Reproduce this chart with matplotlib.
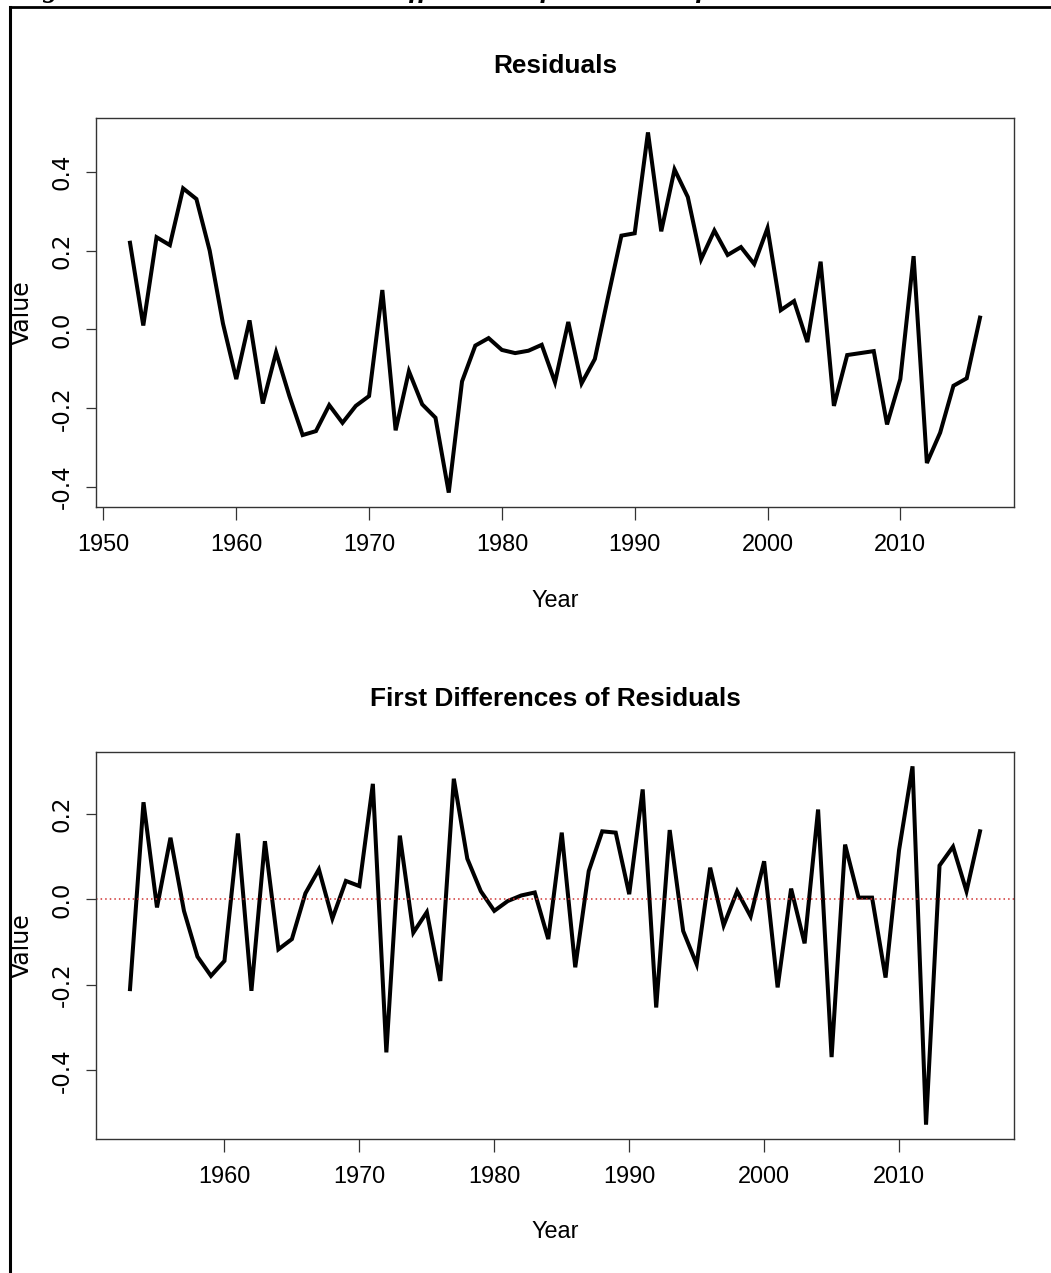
import matplotlib
matplotlib.use("Agg")
import matplotlib.pyplot as plt
from matplotlib import font_manager
from matplotlib.lines import Line2D
import numpy as np

# ---------------- data ----------------
resid_years = list(range(1952, 2017))
resid_values = [
    0.220, 0.010, 0.234, 0.214, 0.358, 0.331, 0.200, 0.015, -0.126, 0.023,
    -0.188, -0.058, -0.169, -0.268, -0.258, -0.192, -0.237, -0.194, -0.169, 0.100,
    -0.256, -0.106, -0.190, -0.224, -0.414, -0.132, -0.041, -0.022, -0.052, -0.060,
    -0.054, -0.039, -0.134, 0.019, -0.137, -0.075, 0.083, 0.238, 0.244, 0.500,
    0.249, 0.406, 0.336, 0.178, 0.251, 0.189, 0.209, 0.166, 0.257, 0.049,
    0.072, -0.032, 0.172, -0.194, -0.065, -0.060, -0.055, -0.241, -0.126, 0.186,
    -0.339, -0.262, -0.143, -0.124, 0.030,
]
diff_years = list(range(1953, 2017))
diff_values = [
    -0.210, 0.227, -0.019, 0.144, -0.027, -0.134, -0.179, -0.144, 0.154, -0.214,
    0.136, -0.117, -0.093, 0.014, 0.070, -0.045, 0.043, 0.031, 0.270, -0.358,
    0.149, -0.078, -0.030, -0.191, 0.282, 0.095, 0.019, -0.027, -0.004, 0.009,
    0.016, -0.093, 0.156, -0.159, 0.066, 0.159, 0.156, 0.012, 0.257, -0.253,
    0.162, -0.074, -0.152, 0.074, -0.061, 0.019, -0.040, 0.089, -0.206, 0.025,
    -0.103, 0.210, -0.369, 0.128, 0.004, 0.004, -0.183, 0.115, 0.311, -0.527,
    0.079, 0.123, 0.019, 0.159,
]
top_xticks = [1950, 1960, 1970, 1980, 1990, 2000, 2010]
top_yticks = [-0.4, -0.2, 0.0, 0.2, 0.4]
bot_xticks = [1960, 1970, 1980, 1990, 2000, 2010]
bot_yticks = [-0.4, -0.2, 0.0, 0.2]
titles = ["Residuals", "First Differences of Residuals"]
caption = "Figure 2: Residuals and First Differences of Residuals of the Model"

# ---------------- fonts ----------------
def have(name):
    try:
        font_manager.findfont(font_manager.FontProperties(family=name), fallback_to_default=False)
        return True
    except Exception:
        return False

if have("Liberation Sans Narrow"):
    HFONT = "Liberation Sans Narrow"; hscale = 1.0
else:
    HFONT = "Liberation Sans"; hscale = 0.88
VFONT = "DejaVu Sans"
plt.rcParams["axes.unicode_minus"] = False

W, H = 1051, 1273
fig = plt.figure(figsize=(W / 100, H / 100), dpi=100)

def fx(px):
    return px / W

def fy(py):
    return 1 - py / H

def r_lim(vals):
    lo, hi = min(vals), max(vals)
    d = (hi - lo) * 0.04
    return lo - d, hi + d

spine_col = "#333333"
axis_size = 19.2 * hscale
title_size = 21.5 * hscale

def make_axes(top_px, bot_px, years, vals, xticks, yticks, title, title_y, xlabel_y, zero_line):
    ax = fig.add_axes([fx(96), fy(bot_px), fx(1014) - fx(96), fy(top_px) - fy(bot_px)])
    ax.plot(years, vals, color="black", lw=2.9, solid_joinstyle="miter")
    if zero_line:
        ax.axhline(0, color="#d03030", lw=1.1, ls=(0, (1, 2)))
    ax.set_xlim(*r_lim(years))
    ax.set_ylim(*r_lim(vals))
    for s in ax.spines.values():
        s.set_color(spine_col)
        s.set_linewidth(1.0)
    ax.set_xticks(xticks)
    ax.set_xticklabels([str(t) for t in xticks], fontfamily=HFONT, fontsize=axis_size)
    ax.set_yticks(yticks)
    ax.set_yticklabels([f"{t:.1f}" for t in yticks], fontfamily=VFONT, fontsize=16.5,
                       rotation=90, va="center")
    ax.tick_params(axis="x", length=9.4, width=0.9, color=spine_col, pad=9)
    ax.tick_params(axis="y", length=7.2, width=0.9, color=spine_col, pad=9)
    fig.text(fx(555), fy(title_y), title, ha="center", va="center",
             fontfamily=HFONT, fontweight="bold", fontsize=title_size)
    fig.text(fx(555), fy(xlabel_y), "Year", ha="center", va="center",
             fontfamily=HFONT, fontsize=axis_size)
    fig.text(fx(22), fy((top_px + bot_px) / 2), "Value", ha="center", va="center",
             rotation=90, fontfamily=VFONT, fontsize=17)
    return ax

make_axes(118, 507, resid_years, resid_values, top_xticks, top_yticks, titles[0], 66, 600, False)
make_axes(752, 1139, diff_years, diff_values, bot_xticks, bot_yticks, titles[1], 699, 1232, True)

# page border (top and left) and the caption above, cut off by the page edge
fig.add_artist(Line2D([fx(10), 1.0], [fy(7), fy(7)], color="black", lw=2.0, transform=fig.transFigure))
fig.add_artist(Line2D([fx(10), fx(10)], [fy(7), 0.0], color="black", lw=2.2, transform=fig.transFigure))
fig.text(fx(16), fy(-3), caption, ha="left", va="baseline", fontfamily="Liberation Serif",
         fontweight="bold", fontstyle="italic", fontsize=21)

fig.savefig("out.png", dpi=100)
